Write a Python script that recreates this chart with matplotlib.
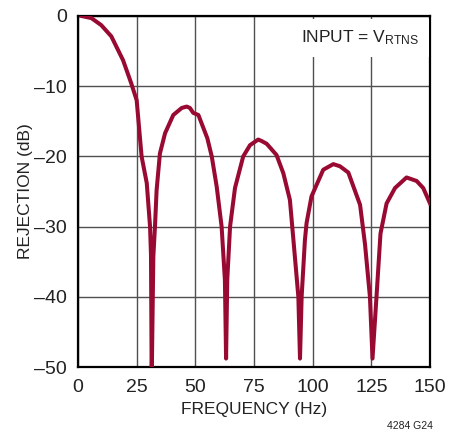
import numpy as np
import matplotlib
matplotlib.use('Agg')
import matplotlib.pyplot as plt

plt.rcParams['font.family'] = ['Liberation Sans', 'DejaVu Sans']
plt.rcParams['mathtext.default'] = 'regular'
plt.rcParams['axes.unicode_minus'] = True

# frequency (Hz) and rejection (dB)
freq = [1.5, 5.7, 9.9, 14.2, 19.2, 22.7, 25.0, 27.1, 29.3, 30.7, 31.1, 31.4,
        32.1, 32.8, 33.5, 34.9, 37.1, 40.6, 44.2, 46.3, 47.7, 49.1, 51.3, 55.1,
        57.0, 59.1, 61.2, 62.6, 63.1, 63.6, 64.8, 66.9, 70.4, 73.3, 76.8, 78.2,
        80.4, 84.6, 87.5, 90.3, 91.8, 93.9, 94.6, 95.3, 96.7, 97.4, 99.5, 104.5,
        108.8, 111.6, 115.2, 120.2, 122.3, 124.4, 125.5, 127.2, 128.9, 131.5,
        135.1, 140.0, 144.3, 147.1, 150.0]
rejection = [0.0, -0.3, -1.3, -2.9, -6.3, -9.6, -12.0, -20.0, -23.8, -30.0, -34.0, -52.0,
             -34.3, -30.0, -24.8, -19.6, -16.7, -14.1, -13.1, -12.9, -13.1, -13.8, -14.1, -17.4,
             -20.0, -24.3, -30.0, -37.6, -48.8, -37.6, -30.0, -24.5, -20.0, -18.4, -17.6, -17.8,
             -18.2, -19.8, -22.4, -26.2, -31.9, -40.0, -48.8, -40.0, -31.9, -29.5, -25.7, -21.9,
             -21.1, -21.4, -22.3, -26.9, -32.5, -40.0, -48.8, -40.0, -31.0, -26.7,
             -24.5, -23.0, -23.5, -24.5, -26.7]

xticks = [0, 25, 50, 75, 100, 125, 150]
yticks = [0, -10, -20, -30, -40, -50]

fig = plt.figure(figsize=(4.59, 4.34), dpi=100)
ax = fig.add_axes([78/459, (434-367)/434, 352/459, 351/434])  # [left bottom width height]

ax.plot(freq, rejection, color='#990a32', lw=2.9, solid_joinstyle='round', zorder=3)

ax.set_xlim(0, 150)
ax.set_ylim(-50, 0)
ax.set_xticks(xticks)
ax.set_yticks(yticks)
ax.set_yticklabels(['0', '\u201310', '\u201320', '\u201330', '\u201340', '\u201350'])
ax.tick_params(length=0, labelsize=14, colors='#222222')
ax.tick_params(axis='y', pad=8)
ax.tick_params(axis='x', pad=9)
ax.grid(True, color='#505050', lw=1.0)
ax.set_axisbelow(True)
for s in ax.spines.values():
    s.set_linewidth(1.6)
    s.set_color('black')

ax.set_xlabel('FREQUENCY (Hz)', fontsize=12.5, color='#222222')
ax.set_ylabel('REJECTION (dB)', fontsize=12.5, color='#222222')
ax.xaxis.set_label_coords(0.5, -0.1)
ax.yaxis.set_label_coords(-0.128, 0.5)

ax.text(145.5, -3.1, 'INPUT = V$_{RTNS}$', ha='right', va='center', fontsize=12.5, color='#222222',
        bbox=dict(facecolor='white', edgecolor='none', pad=7), zorder=4)
fig.text(410/459, 1 - 426/434, '4284 G24', ha='center', va='center', fontsize=7.5, color='#222222')

plt.savefig('out.png', dpi=100, facecolor='w', edgecolor='w')
plt.close(fig)
